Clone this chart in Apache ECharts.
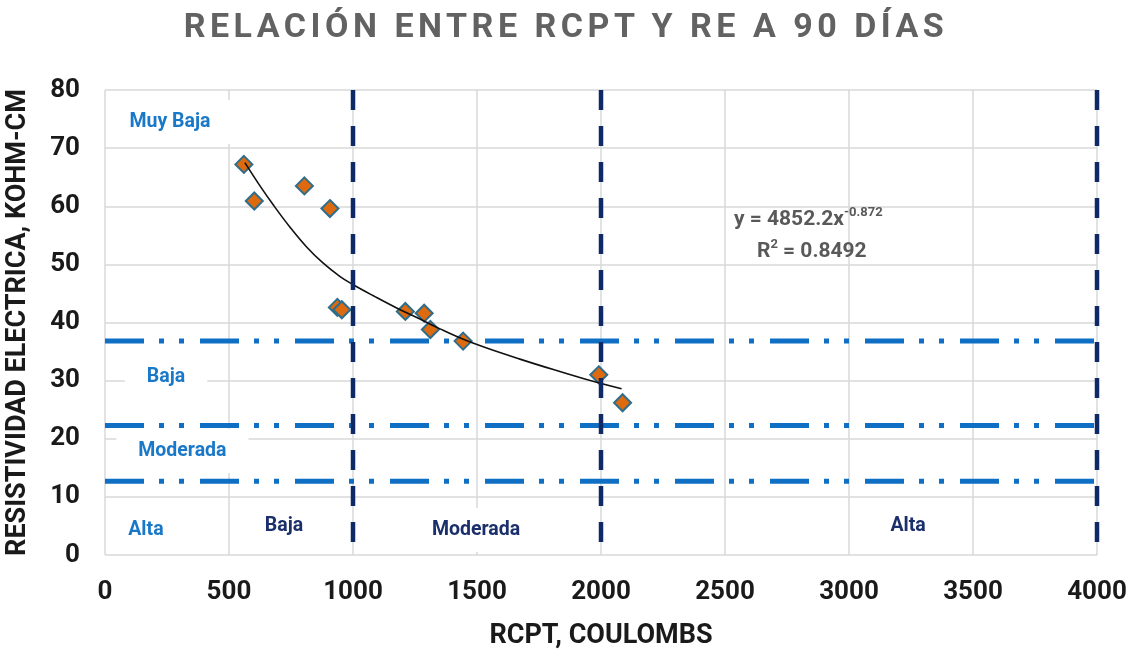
<!DOCTYPE html>
<html>
<head>
<meta charset="utf-8">
<script src="https://cdn.jsdelivr.net/npm/echarts@6/dist/echarts.min.js"></script>
<style>
  html, body { margin: 0; padding: 0; background: #fff; }
  #wrap { position: relative; width: 1132px; height: 654px; }
  #main { width: 1132px; height: 654px; }
  #title {
    position: absolute; left: 0; top: 5px; width: 1132px; text-align: center;
    font: bold 34px Roboto, sans-serif; letter-spacing: 4.5px; color: #626262;
  }
</style>
</head>
<body>
<div id="wrap">
  <div id="main"></div>
  <div id="title">RELACIÓN ENTRE RCPT Y RE A 90 DÍAS</div>
</div>
<script>
// RCPT (coulombs) vs resistividad a 90 dias (kohm-cm)
const rcpt = [560, 602, 804, 907, 937, 955, 1211, 1287, 1312, 1444, 1991, 2087]
const re90 = [67.2, 60.9, 63.5, 59.6, 42.6, 42.2, 41.9, 41.6, 38.8, 36.8, 31.0, 26.2]

// trend curve
const trendX = [564, 625, 679, 746, 813, 880, 948, 1001, 1082, 1176, 1270, 1351, 1445, 1539, 1673, 1808, 1942, 2083]
const trendY = [67.5, 63.5, 60.2, 56.4, 53.0, 50.2, 47.9, 46.5, 44.6, 42.5, 40.6, 38.9, 37.1, 35.6, 33.7, 31.9, 30.2, 28.6]

// class limits
const reLimits = [36.8, 22.3, 12.7]
const rcptLimits = [1000, 2000, 4000]

const reClasses = ['Muy Baja', 'Baja', 'Moderada', 'Alta']
const rcptClasses = ['Baja', 'Moderada', 'Alta']

const fitText = ['4852.2', '-0.872', '0.8492']

const font = 'Roboto, sans-serif'
const lightBlue = '#1a78c8'
const navy = '#1b2f6b'

const chart = echarts.init(document.getElementById('main'), null, { renderer: 'canvas' })

const noteSeries = (items, color) => ({
  type: 'scatter',
  symbolSize: 0,
  silent: true,
  z: 6,
  itemStyle: { opacity: 1 },
  data: items.map(([x, y, name, box]) => ({
    value: [x, y],
    label: {
      show: true,
      position: 'inside',
      formatter: name,
      color: color,
      fontFamily: font,
      fontWeight: 'bold',
      fontSize: 19.5,
      backgroundColor: box ? '#fff' : 'transparent',
      padding: box ? [12, 22] : 0
    }
  }))
})

const sup = {
  a: { fontFamily: font, fontWeight: 'bold', fontSize: 21, color: '#595959', verticalAlign: 'bottom' },
  s: { fontFamily: font, fontWeight: 'bold', fontSize: 13, color: '#595959', verticalAlign: 'top', padding: [0, 0, 11, 0] }
}

const option = {
  animation: false,
  grid: { left: 105, right: 35, top: 90, bottom: 99, outerBoundsMode: 'none' },
  xAxis: {
    type: 'value',
    min: 0, max: 4000, interval: 500,
    name: 'RCPT, COULOMBS',
    nameLocation: 'middle',
    nameGap: 68,
    nameTextStyle: { fontFamily: font, fontWeight: 'bold', fontSize: 27, color: '#1a1a1a' },
    axisLine: { show: false },
    axisTick: { show: false },
    axisLabel: { margin: 24, fontFamily: font, fontWeight: 'bold', fontSize: 26, color: '#1a1a1a', formatter: v => String(v) },
    splitLine: { lineStyle: { color: '#d9d9d9', width: 1.5 } }
  },
  yAxis: {
    type: 'value',
    min: 0, max: 80, interval: 10,
    name: 'RESISTIVIDAD ELECTRICA, KOHM-CM',
    nameLocation: 'middle',
    nameRotate: 90,
    nameGap: 73,
    nameTextStyle: { fontFamily: font, fontWeight: 'bold', fontSize: 27, color: '#1a1a1a' },
    axisLine: { show: false },
    axisTick: { show: false },
    axisLabel: { margin: 25, fontFamily: font, fontWeight: 'bold', fontSize: 26, color: '#1a1a1a' },
    splitLine: { lineStyle: { color: '#d9d9d9', width: 1.5 } }
  },
  series: [
    noteSeries([
      [262, 74.5, reClasses[0], true],
      [246, 30.6, reClasses[1], true],
      [312, 17.9, reClasses[2], true],
      [165, 4.3, reClasses[3], false]
    ], lightBlue),
    noteSeries([
      [722, 5.0, rcptClasses[0], false],
      [1496, 4.3, rcptClasses[1], true],
      [3238, 5.0, rcptClasses[2], false]
    ], navy),
    ...reLimits.map(v => ({
      type: 'line',
      silent: true,
      clip: false,
      symbol: 'none',
      z: 7,
      data: [[0, v], [4025, v]],
      lineStyle: { color: '#0f6fc4', width: 5, type: [39, 15, 5, 15, 5, 16], cap: 'butt' }
    })),
    {
      type: 'scatter',
      symbol: 'diamond',
      symbolSize: 17,
      z: 8,
      data: rcpt.map((x, i) => [x, re90[i]]),
      itemStyle: { color: '#dd6a0e', borderColor: '#2f6d8c', borderWidth: 2, opacity: 1 }
    },
    {
      type: 'line',
      smooth: 0.4,
      symbol: 'none',
      z: 9,
      silent: true,
      data: trendX.map((x, i) => [x, trendY[i]]),
      lineStyle: { color: '#111', width: 1.6 }
    },
    ...rcptLimits.map(v => ({
      type: 'line',
      silent: true,
      clip: false,
      symbol: 'none',
      z: 10,
      data: [[v, 80], [v, 0]],
      lineStyle: { color: '#0d2a66', width: 4.5, type: [20, 16], cap: 'butt' }
    })),
    {
      type: 'scatter',
      symbolSize: 0,
      silent: true,
      z: 11,
      itemStyle: { opacity: 1 },
      data: [
        {
          value: [2836, 58.0],
          label: { show: true, position: 'inside', formatter: '{a|y = ' + fitText[0] + 'x}{s|' + fitText[1] + '}', rich: sup }
        },
        {
          value: [2850, 52.5],
          label: { show: true, position: 'inside', formatter: '{a|R}{s|2}{a| = ' + fitText[2] + '}', rich: sup }
        }
      ]
    }
  ]
}

chart.setOption(option)
</script>
</body>
</html>
